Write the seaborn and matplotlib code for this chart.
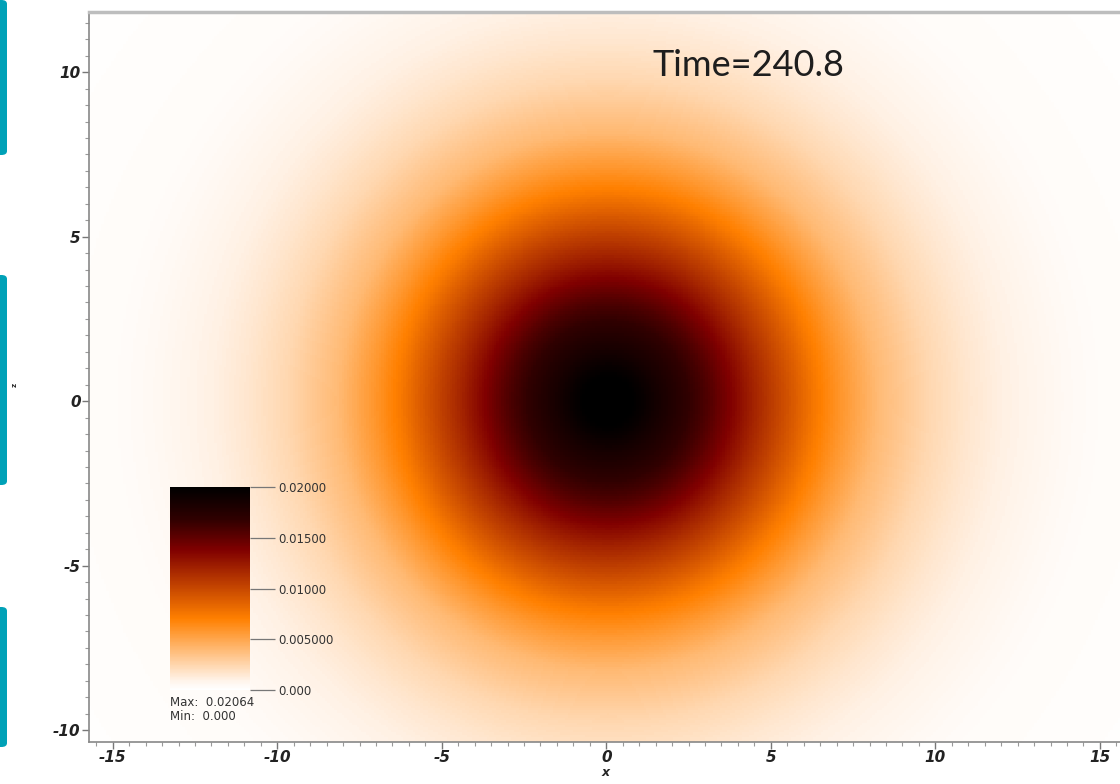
import numpy as np
import pandas as pd
import matplotlib
matplotlib.use("Agg")
import matplotlib.pyplot as plt
import seaborn as sns
from matplotlib.colors import LinearSegmentedColormap
from matplotlib.patches import FancyBboxPatch

# ---- data ----
# radial density profile of the blob (distance from centre -> value)
radius_pts = [0.0, 0.5, 1.0, 1.5, 2.0, 3.0, 3.7, 4.5, 5.5, 6.4, 7.3, 8.2, 9.8,
              11.0, 12.0, 13.0, 14.0, 15.0, 17.0, 20.0]
density_pts = [0.0206, 0.0203, 0.0196, 0.0186, 0.0177, 0.0157, 0.0139, 0.0118, 0.0094,
               0.0072, 0.0055, 0.0040, 0.0024, 0.0016, 0.0011, 0.0008, 0.0005, 0.0003,
               0.0002, 0.0001]
centre_x = 0.05
centre_z = 0.0
x_range = [-15.72, 15.61]
z_range = [-10.36, 11.83]
x_ticks = [-15, -10, -5, 0, 5, 10, 15]
z_ticks = [-10, -5, 0, 5, 10]
cbar_ticks = [0.0, 0.005, 0.01, 0.015, 0.02]
cbar_labels = ["0.000", "0.005000", "0.01000", "0.01500", "0.02000"]
time_label = "Time=240.8"
max_label = "Max:  0.02064"
min_label = "Min:  0.000"

# ---- build field table from the radial profile ----
nx, nz = 420, 300
xs = np.linspace(x_range[0], x_range[1], nx)
zs = np.linspace(z_range[1], z_range[0], nz)  # top row first
XX, ZZ = np.meshgrid(xs, zs)
RR = np.hypot(XX - centre_x, ZZ - centre_z)
field = np.interp(RR, radius_pts, density_pts)
df = pd.DataFrame(field, index=np.round(zs, 3), columns=np.round(xs, 3))

sns.set_theme(style="ticks")
cmap = LinearSegmentedColormap.from_list(
    "blackbody_r",
    [(0.0, "#ffffff"), (0.04, "#fff5ec"), (0.35, "#ff8000"),
     (0.69, "#800000"), (0.84, "#300000"), (1.0, "#000000")])

W, H = 1120, 784
fig = plt.figure(figsize=(W / 100, H / 100), dpi=100)
fig.patch.set_facecolor("white")

pos = [89 / W, 1 - 742 / H, (1120 - 89) / W, (742 - 12) / H]
ax = fig.add_axes(pos)
cax = fig.add_axes([170 / W, 1 - 690 / H, 80 / W, 203 / H])

sns.heatmap(df, ax=ax, cmap=cmap, vmin=0, vmax=0.02, cbar=True, cbar_ax=cax,
            xticklabels=False, yticklabels=False, rasterized=True,
            cbar_kws={"ticks": cbar_ticks})
ax.axis("off")

# overlay axes with real coordinates
ax2 = fig.add_axes(pos, facecolor="none")
ax2.set_xlim(x_range)
ax2.set_ylim(z_range)
ax2.set_xticks(x_ticks)
ax2.set_yticks(z_ticks)
ax2.set_xticks(np.arange(-15.5, 15.6, 0.5), minor=True)
ax2.set_yticks(np.arange(-10, 11.6, 0.5), minor=True)
tick_font = dict(family="DejaVu Sans", weight="bold", style="italic", size=11)
ax2.set_xticklabels([str(t) for t in x_ticks], **tick_font, color="#222222")
ax2.set_yticklabels([str(t) for t in z_ticks], **tick_font, color="#222222")
ax2.tick_params(which="major", length=5, width=1, color="#777777")
ax2.tick_params(axis="x", which="major", pad=1)
ax2.tick_params(axis="y", which="major", pad=1)
ax2.tick_params(which="minor", length=3, width=0.8, color="#999999")
for s in ["left", "bottom"]:
    ax2.spines[s].set_color("#888888")
    ax2.spines[s].set_linewidth(1.2)
ax2.spines["top"].set_color("#bdbdbd")
ax2.spines["top"].set_linewidth(2.5)
ax2.spines["right"].set_visible(False)
ax2.set_xlabel("x", fontsize=9, fontweight="bold", style="italic", va="center")
ax2.xaxis.set_label_coords((606 - 89) / 1031, -(772 - 742) / 730)
ax2.set_ylabel("z", fontsize=5, fontweight="bold")
ax2.yaxis.set_label_coords(-(89 - 18) / 1031, (742 - 385) / 730)

ax2.text(748 / W, 1 - 65 / H, time_label, transform=fig.transFigure,
         ha="center", va="center", fontsize=26, family="Lato", color="#1e1e1e")

# colorbar styling
cb = ax.collections[0].colorbar
cb.outline.set_visible(False)
cb.set_ticklabels(cbar_labels)
cax.tick_params(length=18, width=0.9, color="#777777", pad=2, labelsize=8.5,
                labelcolor="#333333")
fig.text(170 / W, 1 - 703 / H, max_label, fontsize=8.5, color="#333333", va="center")
fig.text(170 / W, 1 - 716 / H, min_label, fontsize=8.5, color="#333333", va="center")

# teal page-edge bars
for top, bot in [(0, 155), (275, 485), (607, 747)]:
    fig.patches.append(FancyBboxPatch((-6 / W, 1 - bot / H), 13 / W, (bot - top) / H,
                                      boxstyle="round,pad=0,rounding_size=0.005",
                                      transform=fig.transFigure, facecolor="#00a1b7",
                                      edgecolor="none"))

fig.savefig("out.png", dpi=100)
